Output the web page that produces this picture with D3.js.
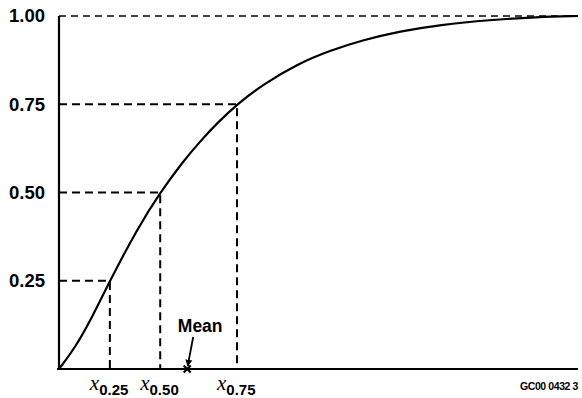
<!DOCTYPE html>
<html><head><meta charset="utf-8">
<script src="https://cdn.jsdelivr.net/npm/d3@7"></script>
<style>body{margin:0;background:#fff}svg{display:block}</style>
</head><body>
<svg id="c" width="582" height="398"></svg>
<script>
// CDF curve samples (x in arbitrary units, y = cumulative probability)
const curveX = [0, 0.31, 0.64, 0.98, 1.52, 1.95, 2.39, 2.72, 3.05, 3.43, 3.93, 4.59, 5.22, 5.86, 6.57, 7.34, 8.30, 9.2, 10];
const curveY = [0, 0.060, 0.147, 0.25, 0.40, 0.50, 0.588, 0.645, 0.697, 0.75, 0.806, 0.864, 0.902, 0.932, 0.957, 0.975, 0.989, 0.997, 1.0];
const quantileP = [0.25, 0.50, 0.75];
const quantileX = [0.98, 1.95, 3.43];
const quantileLabels = ["0.25", "0.50", "0.75"];
const meanX = 2.47;
const yTicks = [0.25, 0.50, 0.75, 1.00];

const svg = d3.select("#c");
const x = d3.scaleLinear().domain([0, 10]).range([59, 578]);
const y = d3.scaleLinear().domain([0, 1]).range([369, 16]);

// top dashed line at 1.00
svg.append("line").attr("x1", x(0)).attr("x2", x(10)).attr("y1", y(1)).attr("y2", y(1))
  .attr("stroke", "#000").attr("stroke-width", 1.6).attr("stroke-dasharray", "7,5");

// quantile guides
quantileP.forEach((p, i) => {
  svg.append("path")
    .attr("d", `M${x(0)},${y(p)}H${x(quantileX[i])}V${y(0)}`)
    .attr("fill", "none").attr("stroke", "#000").attr("stroke-width", 2)
    .attr("stroke-dasharray", "8,5");
});

// axes
const ya = d3.axisLeft(y).tickValues(yTicks).tickSize(0).tickPadding(14).tickFormat(d3.format(".2f"));
const gy = svg.append("g").attr("transform", `translate(${x(0)},0)`).call(ya);
gy.select(".domain").attr("stroke-width", 2.2).attr("d", `M0,${y(1)}V${y(0)}`);
gy.selectAll("text").attr("font-family", "Liberation Sans, Arial, sans-serif")
  .attr("font-weight", "bold").attr("font-size", 18.5).attr("fill", "#000");

svg.append("line").attr("x1", x(0) - 2).attr("x2", x(10)).attr("y1", y(0)).attr("y2", y(0))
  .attr("stroke", "#000").attr("stroke-width", 2.2);

// curve
const line = d3.line().x((d, i) => x(curveX[i])).y((d, i) => y(curveY[i])).curve(d3.curveBasis);
svg.append("path").datum(curveX).attr("d", line).attr("fill", "none")
  .attr("stroke", "#000").attr("stroke-width", 2.2);

// quantile labels
quantileX.forEach((q, i) => {
  const t = svg.append("text").attr("x", x(q) - 20).attr("y", 390);
  t.append("tspan").text("x").attr("font-family", "Liberation Serif, Times New Roman, serif")
    .attr("font-style", "italic").attr("font-size", 21);
  t.append("tspan").text(quantileLabels[i]).attr("dy", 5)
    .attr("font-family", "Liberation Sans, Arial, sans-serif").attr("font-weight", "bold").attr("font-size", 15);
});

// mean marker and arrow
svg.append("defs").append("marker").attr("id", "ah").attr("viewBox", "0 0 10 10")
  .attr("refX", 9).attr("refY", 5).attr("markerWidth", 7).attr("markerHeight", 9)
  .attr("markerUnits", "userSpaceOnUse").attr("orient", "auto")
  .append("path").attr("d", "M0,0L10,5L0,10Z").attr("fill", "#000");
svg.append("path").attr("d", `M${x(meanX)-3.5},${y(0)-3.5}L${x(meanX)+3.5},${y(0)+3.5}M${x(meanX)-3.5},${y(0)+3.5}L${x(meanX)+3.5},${y(0)-3.5}`)
  .attr("stroke", "#000").attr("stroke-width", 2.2);
svg.append("line").attr("x1", x(meanX) + 6).attr("y1", 337).attr("x2", x(meanX) + 0.5).attr("y2", y(0) - 3)
  .attr("stroke", "#000").attr("stroke-width", 1.8).attr("marker-end", "url(#ah)");
svg.append("text").attr("x", x(meanX) + 13).attr("y", 332).attr("text-anchor", "middle")
  .attr("font-family", "Liberation Sans, Arial, sans-serif").attr("font-weight", "bold")
  .attr("font-size", 17.5).text("Mean");

svg.append("text").attr("x", 578).attr("y", 390).attr("text-anchor", "end")
  .attr("font-family", "Liberation Sans, Arial, sans-serif").attr("font-weight", "bold")
  .attr("font-size", 10.5).attr("letter-spacing", -0.4).text("GC00 0432 3");
</script>
</body></html>
